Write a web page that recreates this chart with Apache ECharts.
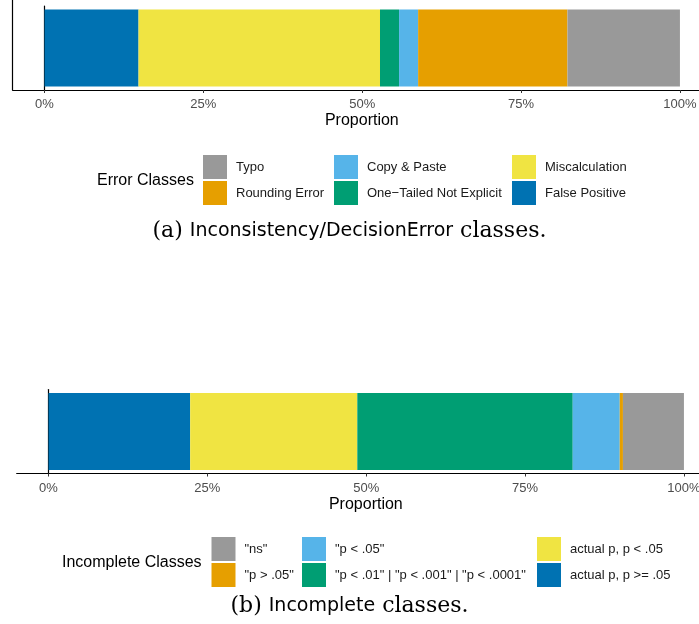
<!DOCTYPE html>
<html>
<head>
<meta charset="utf-8">
<script src="https://cdn.jsdelivr.net/npm/echarts@6/dist/echarts.min.js"></script>
<style>
  html, body { margin: 0; padding: 0; background: #fff; }
  #chart { width: 699px; height: 624px; }
</style>
</head>
<body>
<div id="chart"></div>
<script>
// error classes, left to right in the bar (percent)
var errorNames = ['False Positive', 'Miscalculation', 'One\u2212Tailed Not Explicit', 'Copy & Paste', 'Rounding Error', 'Typo'];
var errorValues = [14.8, 38.0, 3.0, 3.0, 23.5, 17.7];
var errorColors = ['#0072B2', '#F0E442', '#009E73', '#56B4E9', '#E69F00', '#999999'];

// incomplete classes, left to right in the bar (percent)
var incNames = ['actual p, p >= .05', 'actual p, p < .05', '"p < .01" | "p < .001" | "p < .0001"', '"p < .05"', '"p > .05"', '"ns"'];
var incValues = [22.3, 26.3, 33.9, 7.4, 0.5, 9.6];
var incColors = ['#0072B2', '#F0E442', '#009E73', '#56B4E9', '#E69F00', '#999999'];

var tickValues = [0, 25, 50, 75, 100];

var chart = echarts.init(document.getElementById('chart'));

var sans = 'Liberation Sans, Arial, sans-serif';

function makeXAxis(gridIndex) {
	return {
		gridIndex: gridIndex,
		type: 'value',
		min: -5,
		max: 103,
		splitLine: { show: false },
		axisLine: { show: true, lineStyle: { color: '#000', width: 1.2 } },
		axisTick: { show: true, length: 3, customValues: tickValues, lineStyle: { color: '#333' } },
		axisLabel: {
			customValues: tickValues,
			formatter: '{value}%',
			color: '#4d4d4d',
			fontSize: 13,
			fontFamily: sans,
			margin: 8
		},
		name: 'Proportion',
		nameLocation: 'middle',
		nameGap: 23,
		nameTextStyle: { color: '#000', fontSize: 16, fontFamily: sans, padding: [0, 0, 0, 12] }
	};
}

function makeYAxis(gridIndex) {
	return {
		gridIndex: gridIndex,
		type: 'category',
		data: [''],
		axisLine: { show: true, lineStyle: { color: '#000', width: 1.2 } },
		axisTick: { show: false },
		axisLabel: { show: false }
	};
}

function makeSeries(names, values, colors, axisIndex, stack) {
	var out = [];
	for (var i = 0; i < names.length; i++) {
		out.push({
			name: names[i],
			type: 'bar',
			stack: stack,
			xAxisIndex: axisIndex,
			yAxisIndex: axisIndex,
			barWidth: 77,
			itemStyle: { color: colors[i] },
			data: [values[i]]
		});
	}
	return out;
}

function makeLegend(left, top, data) {
	return {
		orient: 'vertical',
		left: left,
		top: top,
		padding: 0,
		itemGap: 2,
		itemWidth: 24,
		itemHeight: 24,
		icon: 'rect',
		selectedMode: false,
		textStyle: { color: '#1a1a1a', fontSize: 13, fontFamily: sans, padding: [0, 0, 0, 4] },
		data: data
	};
}

var captionRich = {
	r: { fontFamily: 'DejaVu Serif', fontSize: 22, fill: '#000' },
	s: { fontFamily: 'DejaVu Sans', fontSize: 19, fill: '#000' }
};

var option = {
	animation: false,
	backgroundColor: '#fff',
	grid: [
		{ left: 12.7, right: 0, top: 6, height: 84, outerBoundsMode: 'none' },
		{ left: 16.7, right: -4, top: 389.5, height: 84, outerBoundsMode: 'none' },
		// the top panel is cropped, its left axis line runs to the edge
		{ left: 12.7, right: 0, top: 0, height: 90, outerBoundsMode: 'none' }
	],
	xAxis: [
		makeXAxis(0),
		makeXAxis(1),
		{ gridIndex: 2, type: 'value', show: false }
	],
	yAxis: [makeYAxis(0), makeYAxis(1), makeYAxis(2)],
	legend: [
		makeLegend(203, 155, [errorNames[5], errorNames[4]]),
		makeLegend(334, 155, [errorNames[3], errorNames[2]]),
		makeLegend(512, 155, [errorNames[1], errorNames[0]]),
		makeLegend(211.5, 537, [incNames[5], incNames[4]]),
		makeLegend(302, 537, [incNames[3], incNames[2]]),
		makeLegend(537, 537, [incNames[1], incNames[0]])
	],
	graphic: [
		{ type: 'text', left: 97, top: 173, style: { text: 'Error Classes', fill: '#000', font: '16px ' + sans } },
		{ type: 'text', left: 62, top: 554.5, style: { text: 'Incomplete Classes', fill: '#000', font: '16px ' + sans } },
		{
			type: 'text', left: 'center', top: 220,
			style: { text: '{r|(a) }{s|Inconsistency/DecisionError}{r| classes.}', fill: '#000', rich: captionRich }
		},
		{
			type: 'text', left: 'center', top: 595,
			style: { text: '{r|(b) }{s|Incomplete}{r| classes.}', fill: '#000', rich: captionRich }
		}
	],
	series: makeSeries(errorNames, errorValues, errorColors, 0, 'err')
		.concat(makeSeries(incNames, incValues, incColors, 1, 'inc'))
};

chart.setOption(option);
</script>
</body>
</html>
